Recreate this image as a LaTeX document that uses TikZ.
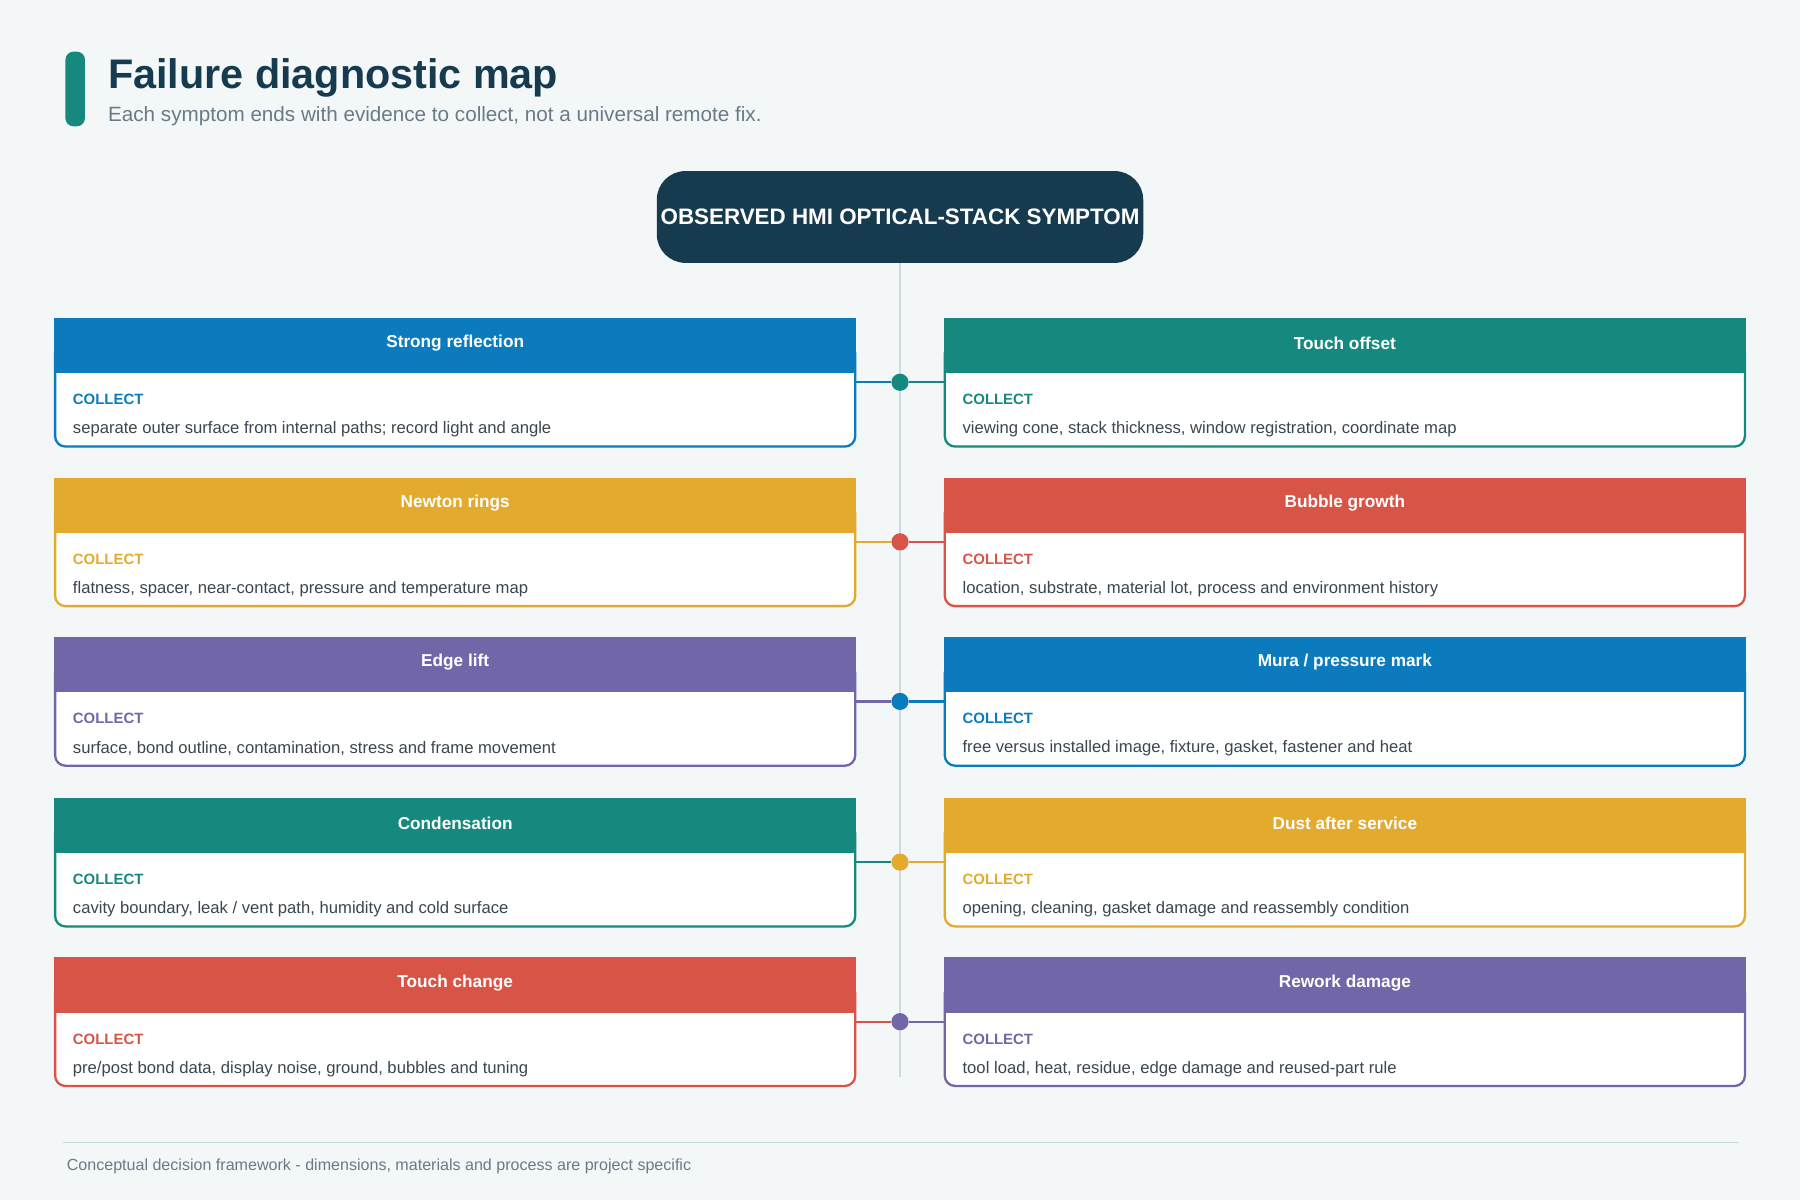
\documentclass[tikz,border=0pt]{standalone}
\usepackage{fontspec}
\setmainfont{Liberation Sans}
\usetikzlibrary{calc}
\definecolor{cblue}{HTML}{0B7BBD}
\definecolor{cteal}{HTML}{16897E}
\definecolor{cyel}{HTML}{E3AB2E}
\definecolor{cred}{HTML}{D85446}
\definecolor{cpur}{HTML}{7166A8}
\definecolor{navy}{HTML}{163A4E}
\definecolor{bg}{HTML}{F3F7F8}
\definecolor{txt}{HTML}{3C4650}
\definecolor{grayt}{HTML}{6A7A86}
\definecolor{spine}{HTML}{C9DAE2}
\begin{document}
\begin{tikzpicture}[x=1pt,y=-1pt,
  hdr/.style={anchor=center,text=white,font=\fontsize{15}{18}\selectfont\bfseries},
  col/.style={anchor=west,font=\fontsize{13}{15}\selectfont\bfseries},
  bod/.style={anchor=west,text=txt,font=\fontsize{14.5}{17}\selectfont},
  dot/.style={circle,inner sep=0pt,minimum size=15pt}]
\fill[bg] (0,0) rectangle (1568,1045);
\useasboundingbox (0,0) rectangle (1568,1045);
\fill[cteal,rounded corners=7pt] (57,45) rectangle (74,110);
\node[anchor=base west,text=navy,font=\fontsize{36}{40}\selectfont\bfseries,inner sep=0] (title) at (94,77) {Failure diagnostic map};
\node[anchor=base west,text=grayt,font=\fontsize{18}{20}\selectfont,inner sep=0] (sub) at (94,106) {Each symptom ends with evidence to collect, not a universal remote fix.};
\draw[spine,line width=2pt] (784,229) -- (784,938);
\node[fill=navy,rounded corners=25pt,minimum width=418pt,minimum height=80pt,text=white,font=\fontsize{19.5}{22}\selectfont\bfseries] (root) at (784,189) {OBSERVED HMI OPTICAL-STACK SYMPTOM};
\newcommand\dbox[6]{%
  \draw[#4,line width=2pt,fill=white,rounded corners=9pt] (#2,#3+30) -- (#2,#3+112) -- (#2+697,#3+112) -- (#2+697,#3+30);
  \fill[#4] (#2-1,#3) rectangle (#2+698,#3+48);
  \node[hdr] (#1h) at (#2+348.5,#3+22) {#5};
  \node[col,text=#4] (#1c) at (#2+12,#3+71) {COLLECT};
  \node[bod] (#1b) at (#2+12,#3+97) {#6};
  \coordinate (#1a) at (#2+697,#3+56);
  \coordinate (#1z) at (#2,#3+56);
}
\dbox{L1}{48}{277}{cblue}{Strong reflection}{separate outer surface from internal paths; record light and angle}
\dbox{L2}{48}{416}{cyel}{Newton rings}{flatness, spacer, near-contact, pressure and temperature map}
\dbox{L3}{48}{555}{cpur}{Edge lift}{surface, bond outline, contamination, stress and frame movement}
\dbox{L4}{48}{695}{cteal}{Condensation}{cavity boundary, leak / vent path, humidity and cold surface}
\dbox{L5}{48}{834}{cred}{Touch change}{pre/post bond data, display noise, ground, bubbles and tuning}
\dbox{R1}{823}{277}{cteal}{Touch offset}{viewing cone, stack thickness, window registration, coordinate map}
\dbox{R2}{823}{416}{cred}{Bubble growth}{location, substrate, material lot, process and environment history}
\dbox{R3}{823}{555}{cblue}{Mura / pressure mark}{free versus installed image, fixture, gasket, fastener and heat}
\dbox{R4}{823}{695}{cyel}{Dust after service}{opening, cleaning, gasket damage and reassembly condition}
\dbox{R5}{823}{834}{cpur}{Rework damage}{tool load, heat, residue, edge damage and reused-part rule}
\foreach \i/\lc/\rc in {1/cblue/cteal,2/cyel/cred,3/cpur/cblue,4/cteal/cyel,5/cred/cpur}{
  \node[dot,fill=\rc] (d\i) at ($(L\i a)!0.5!(R\i z)$) {};
  \draw[\lc,line width=2pt] (L\i a) -- (d\i);
  \draw[\rc,line width=2pt] (d\i) -- (R\i z);
}
\draw[spine,line width=1.2pt] (55,995) -- (1515,995);
\node[anchor=west,text=grayt,font=\fontsize{14}{16}\selectfont,inner sep=0] (foot) at (58,1016) {Conceptual decision framework - dimensions, materials and process are project specific};
\end{tikzpicture}
\end{document}
